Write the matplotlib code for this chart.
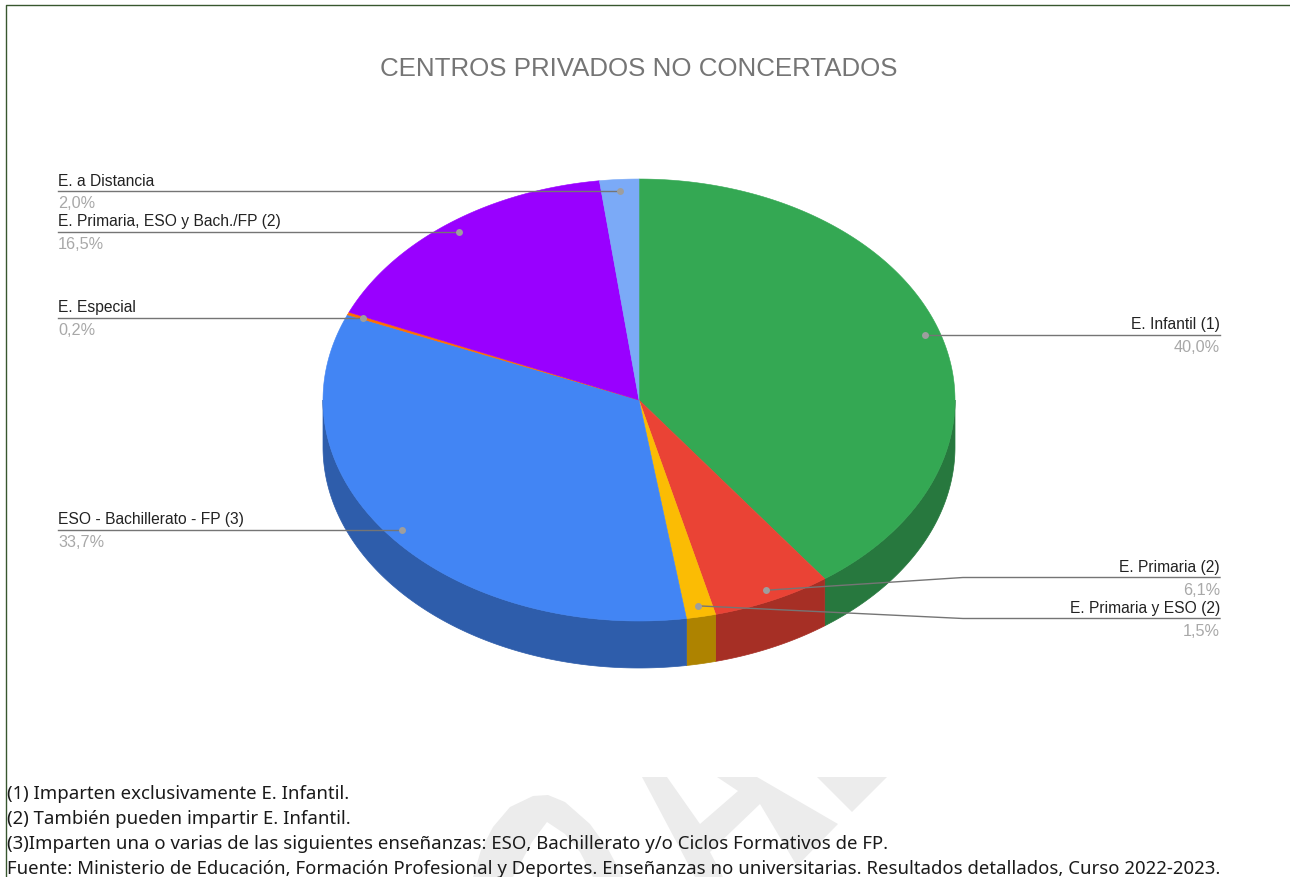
import numpy as np
import matplotlib
matplotlib.use('Agg')
import matplotlib.pyplot as plt

labels = ["E. Infantil (1)", "E. Primaria (2)", "E. Primaria y ESO (2)",
          "ESO - Bachillerato - FP (3)", "E. Especial",
          "E. Primaria, ESO y Bach./FP (2)", "E. a Distancia"]
values = [40.0, 6.1, 1.5, 33.7, 0.2, 16.5, 2.0]
top_colors = ['#34a853', '#ea4335', '#fbbc04', '#4285f4', '#ff6d01', '#9900ff', '#7baaf7']
side_colors = ['#27783e', '#a62f25', '#ae8300', '#2e5dab', '#b34c01', '#6b00b3', '#5677ad']
footnotes = ["(1) Imparten exclusivamente E. Infantil.",
             "(2) También pueden impartir E. Infantil.",
             "(3)Imparten una o varias de las siguientes enseñanzas: ESO, Bachillerato y/o Ciclos Formativos de FP.",
             "Fuente: Ministerio de Educación, Formación Profesional y Deportes. Enseñanzas no universitarias. Resultados detallados, Curso 2022-2023."]

cx, cy, rx, ry, depth = 639, 401, 316, 221, 47


def ellipse_pts(a0, a1, r=1.0, dy=0):
    t = np.radians(np.linspace(a0, a1, 200))
    return cx + r * rx * np.sin(t), cy + dy - r * ry * np.cos(t)


fig = plt.figure(figsize=(12.9, 8.78), dpi=100)
ax = fig.add_axes([0, 0, 1, 1])
ax.set_xlim(0, 1290)
ax.set_ylim(878, 0)
ax.axis('off')

# faint watermark behind the footnotes
wm = '#ececec'
ax.fill([473, 481, 493, 510, 533, 548, 565, 590, 608, 623, 593, 580, 565, 547, 532, 513],
        [878, 851, 828, 808, 797, 796, 803, 825, 850, 878, 878, 853, 835, 823, 843, 878],
        color=wm, lw=0, zorder=0)
ax.fill([642, 667, 700, 738, 717, 757, 838, 797, 760, 710, 723, 695],
        [778, 778, 825, 792, 778, 778, 825, 867, 805, 853, 878, 878],
        color=wm, lw=0, zorder=0)
ax.fill([817, 887, 852], [778, 778, 813], color=wm, lw=0, zorder=0)

# frame at top and left
ax.plot([5.5, 5.5, 1290], [878, 5.5, 5.5], color='#38572f', lw=1, zorder=1)

# slice angles clockwise from the top
edges = np.concatenate([[0], np.cumsum(values)]) / sum(values) * 360

# side wall, only the front half of the ellipse shows
for i in range(len(values)):
    a0, a1 = max(edges[i], 90), min(edges[i + 1], 270)
    if a1 <= a0:
        continue
    x0, y0 = ellipse_pts(a0, a1)
    x1, y1 = ellipse_pts(a1, a0, dy=depth)
    ax.fill(np.r_[x0, x1], np.r_[y0, y1], color=side_colors[i], lw=0.5, zorder=2)

# top face
for i in range(len(values)):
    x0, y0 = ellipse_pts(edges[i], edges[i + 1])
    ax.fill(np.r_[cx, x0], np.r_[cy, y0], color=top_colors[i], lw=0.4, zorder=3)

# leader lines: (side, label y, elbow x or None)
layout = [('r', 335.5, None), ('r', 578.5, 963), ('r', 619.5, 963),
          ('l', 530.5, None), ('l', 318.5, None), ('l', 232.5, None), ('l', 191.5, None)]
for i, (side, ly, elbow) in enumerate(layout):
    mid = (edges[i] + edges[i + 1]) / 2
    px = cx + 0.95 * rx * np.sin(np.radians(mid))
    py = cy - 0.95 * ry * np.cos(np.radians(mid))
    xe = 1220 if side == 'r' else 58
    if elbow is None:
        xs, ys = [px, xe], [ly, ly]
    else:
        xs, ys = [px, elbow, xe], [py, ly, ly]
    ax.plot(xs, ys, color='#757575', lw=1, zorder=4)
    ax.plot(px, ly if elbow is None else py, 'o', color='#9e9e9e', ms=5, mew=0, zorder=5)
    ha = 'right' if side == 'r' else 'left'
    ax.text(xe, ly - 3, labels[i], ha=ha, va='bottom', family='Liberation Sans',
            fontsize=11.25, color='#222222', zorder=6)
    ax.text(xe, ly + 5, f"{values[i]:.1f}%".replace('.', ','), ha=ha, va='top',
            family='Liberation Sans', fontsize=11.7, color='#a8a8a8', zorder=6)

ax.text(639, 69, "CENTROS PRIVADOS NO CONCERTADOS", ha='center', va='center',
        family='Liberation Sans', fontsize=18.6, color='#757575')

for s, y in zip(footnotes, [794, 819, 844, 869]):
    ax.text(7, y, s, ha='left', va='center', family='Noto Sans', fontsize=13.37, color='#1a1a1a')

fig.savefig('out.png', dpi=100)
